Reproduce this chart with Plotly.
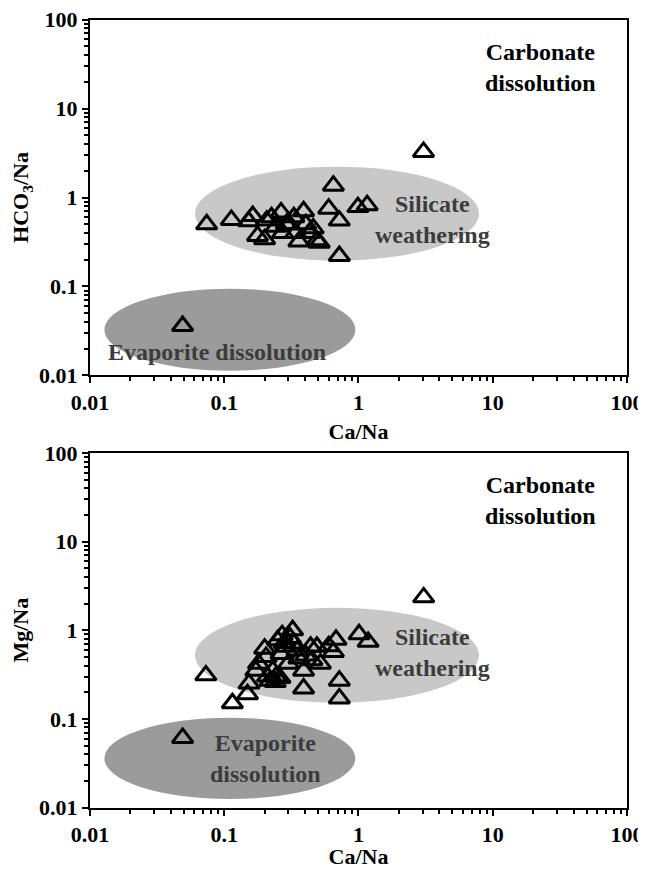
import plotly.graph_objects as go

# ---- data ----
top_ca_na = [0.049, 0.074, 0.113, 0.152, 0.163, 0.177, 0.20, 0.207, 0.225, 0.243,
             0.265, 0.272, 0.29, 0.305, 0.33, 0.34, 0.36, 0.39, 0.405, 0.43,
             0.46, 0.49, 0.51, 0.60, 0.65, 0.72, 0.72, 0.99, 1.16, 3.05]
top_hco3_na = [0.036, 0.50, 0.56, 0.54, 0.62, 0.37, 0.34, 0.55, 0.60, 0.47,
               0.68, 0.40, 0.50, 0.50, 0.60, 0.40, 0.32, 0.70, 0.50, 0.40,
               0.45, 0.33, 0.31, 0.75, 1.36, 0.55, 0.22, 0.78, 0.82, 3.25]

bot_ca_na = [0.049, 0.073, 0.115, 0.149, 0.153, 0.172, 0.18, 0.20, 0.205, 0.21,
             0.22, 0.23, 0.24, 0.243, 0.25, 0.26, 0.265, 0.27, 0.28, 0.285,
             0.30, 0.31, 0.323, 0.33, 0.35, 0.36, 0.39, 0.39, 0.405, 0.44,
             0.45, 0.49, 0.52, 0.60, 0.65, 0.68, 0.72, 0.72, 1.01, 1.18, 3.06]
bot_mg_na = [0.061, 0.31, 0.15, 0.19, 0.25, 0.35, 0.42, 0.62, 0.50, 0.30,
             0.27, 0.35, 0.26, 0.30, 0.77, 0.29, 0.54, 0.88, 0.72, 0.65,
             0.42, 0.82, 1.00, 0.71, 0.59, 0.48, 0.35, 0.22, 0.52, 0.65,
             0.46, 0.65, 0.42, 0.66, 0.57, 0.78, 0.27, 0.17, 0.90, 0.74, 2.35]

tick_vals = [0.01, 0.1, 1, 10, 100]
tick_text = ["<b>0.01</b>", "<b>0.1</b>", "<b>1</b>", "<b>10</b>", "<b>100</b>"]

# zones: (x0, x1, y0, y1) in data units
top_silicate = (0.0605, 7.9, 0.195, 2.22)
top_evaporite = (0.0128, 0.948, 0.0113, 0.0944)
bot_silicate = (0.0605, 7.9, 0.152, 1.79)
bot_evaporite = (0.0128, 0.948, 0.01245, 0.103)

FONT = "Liberation Serif, Times New Roman, serif"
SIL_COLOR = "#c8c8c8"
EVA_COLOR = "#9b9b9b"

fig = go.Figure()

marker_style = dict(symbol="triangle-up-open", size=18, color="black",
                    line=dict(width=3, color="black"))
fig.add_trace(go.Scatter(x=top_ca_na, y=top_hco3_na, mode="markers", marker=marker_style,
                         xaxis="x", yaxis="y", showlegend=False))
fig.add_trace(go.Scatter(x=bot_ca_na, y=bot_mg_na, mode="markers", marker=marker_style,
                         xaxis="x2", yaxis="y2", showlegend=False))

def zone(box, color, xref, yref):
    x0, x1, y0, y1 = box
    fig.add_shape(type="circle", xref=xref, yref=yref, x0=x0, x1=x1, y0=y0, y1=y1,
                  fillcolor=color, line=dict(width=0), layer="below")

zone(top_silicate, SIL_COLOR, "x", "y")
zone(top_evaporite, EVA_COLOR, "x", "y")
zone(bot_silicate, SIL_COLOR, "x2", "y2")
zone(bot_evaporite, EVA_COLOR, "x2", "y2")

axis_common = dict(
    type="log", range=[-2, 2], tickvals=tick_vals, ticktext=tick_text,
    showline=True, linewidth=2, linecolor="black", mirror=True,
    ticks="outside", ticklen=6, tickwidth=2, tickcolor="black",
    showgrid=False, zeroline=False, automargin=False, ticklabeloverflow="allow",
    tickfont=dict(family=FONT, size=22, color="black"),
    minor=dict(ticks="outside", ticklen=4, tickwidth=1.5, tickcolor="black",
               dtick="D1", showgrid=False),
)

title_font = dict(family=FONT, size=22, color="black")
# the page body adds an 8px margin, so the paper origin sits at (8, 8) on screen
xdom = [0.1285, 0.9702]
fig.update_layout(
    width=638, height=861,
    margin=dict(l=0, r=0, t=0, b=0, autoexpand=False),
    paper_bgcolor="white", plot_bgcolor="white",
    xaxis=dict(axis_common, domain=xdom, anchor="y",
               title=dict(text="<b>Ca/Na</b>", font=title_font, standoff=10)),
    yaxis=dict(axis_common, domain=[0.5732, 0.9866], anchor="x",
               title=dict(text="<b>HCO<sub>3</sub>/Na</b>", font=title_font, standoff=11)),
    xaxis2=dict(axis_common, domain=xdom, anchor="y2",
                title=dict(text="<b>Ca/Na</b>", font=title_font, standoff=10)),
    yaxis2=dict(axis_common, domain=[0.0714, 0.4832], anchor="x2",
                title=dict(text="<b>Mg/Na</b>", font=title_font, standoff=11)),
)

def label(text, x, y, xref, yref, color, size=24):
    fig.add_annotation(text="<b>" + text.replace("<br>", "</b><br><b>") + "</b>",
                       x=x, y=y, xref=xref, yref=yref, showarrow=False,
                       font=dict(family=FONT, size=size, color=color),
                       align="center", xanchor="center", yanchor="middle")

# annotation positions are log10 values on log axes
label("Carbonate<br>dissolution", 1.359, 1.458, "x", "y", "black")
label("Silicate<br>weathering", 0.555, -0.242, "x", "y", "#3c3c3c")
label("Evaporite dissolution", -1.054, -1.733, "x", "y", "#3c3c3c")
label("Carbonate<br>dissolution", 1.359, 1.464, "x2", "y2", "black")
label("Silicate<br>weathering", 0.555, -0.252, "x2", "y2", "#3c3c3c")
label("Evaporite<br>dissolution", -0.689, -1.446, "x2", "y2", "#3c3c3c")

fig.write_html("out.html")
